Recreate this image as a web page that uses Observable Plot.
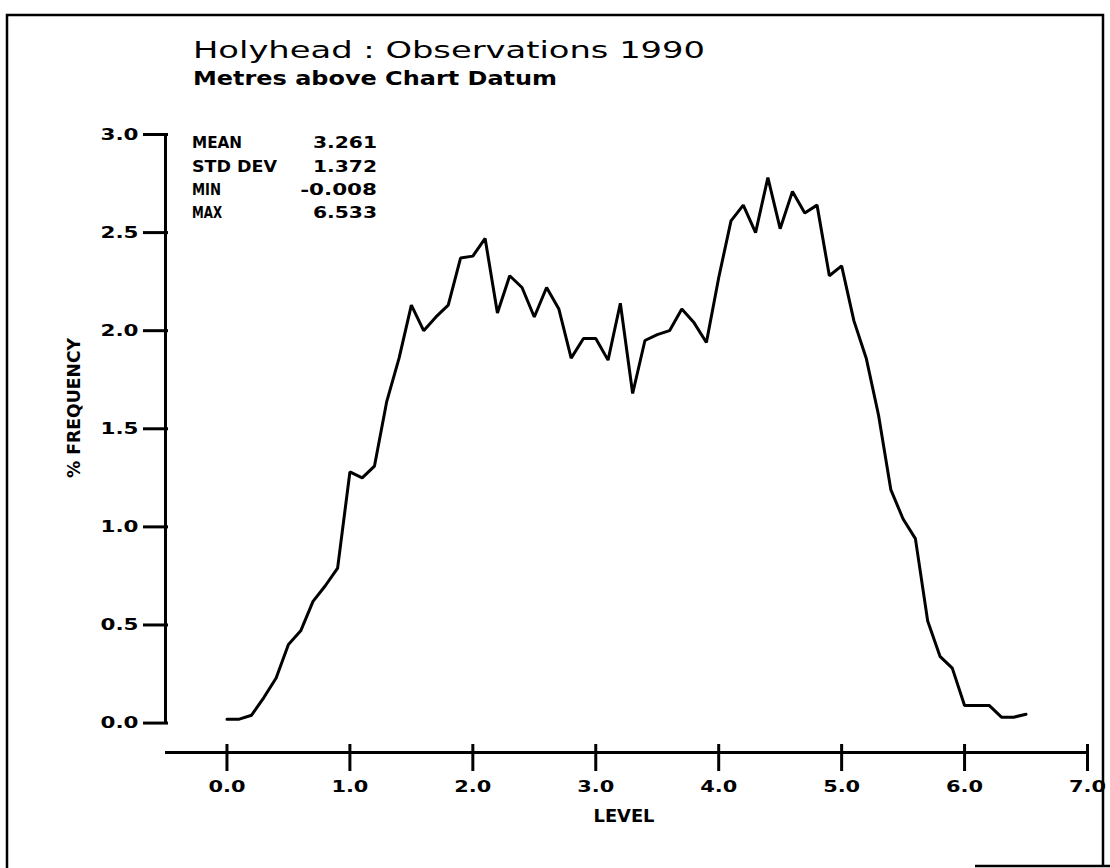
<!DOCTYPE html>
<html>
<head>
<meta charset="utf-8">
<script src="https://cdn.jsdelivr.net/npm/d3@7"></script>
<script src="https://cdn.jsdelivr.net/npm/@observablehq/plot@0.6"></script>
<style>
html, body { margin: 0; padding: 0; background: #fff; }
#chart svg { display: block; }
</style>
</head>
<body>
<div id="chart"></div>
<script>
// ---- data ----
const levels = [0.0, 0.1, 0.2, 0.3, 0.4, 0.5, 0.6, 0.7, 0.8, 0.9,
                1.0, 1.1, 1.2, 1.3, 1.4, 1.5, 1.6, 1.7, 1.8, 1.9,
                2.0, 2.1, 2.2, 2.3, 2.4, 2.5, 2.6, 2.7, 2.8, 2.9,
                3.0, 3.1, 3.2, 3.3, 3.4, 3.5, 3.6, 3.7, 3.8, 3.9,
                4.0, 4.1, 4.2, 4.3, 4.4, 4.5, 4.6, 4.7, 4.8, 4.9,
                5.0, 5.1, 5.2, 5.3, 5.4, 5.5, 5.6, 5.7, 5.8, 5.9,
                6.0, 6.1, 6.2, 6.3, 6.4, 6.5];
const frequency = [0.02, 0.02, 0.04, 0.13, 0.23, 0.40, 0.47, 0.62, 0.70, 0.79,
                   1.28, 1.25, 1.31, 1.64, 1.86, 2.13, 2.00, 2.07, 2.13, 2.37,
                   2.38, 2.47, 2.09, 2.28, 2.22, 2.07, 2.22, 2.11, 1.86, 1.96,
                   1.96, 1.85, 2.14, 1.68, 1.95, 1.98, 2.00, 2.11, 2.04, 1.94,
                   2.27, 2.56, 2.64, 2.50, 2.78, 2.52, 2.71, 2.60, 2.64, 2.28,
                   2.33, 2.05, 1.86, 1.57, 1.19, 1.04, 0.94, 0.52, 0.34, 0.28,
                   0.09, 0.09, 0.09, 0.03, 0.03, 0.045];
const xTicks = [0, 1, 2, 3, 4, 5, 6, 7];
const yTicks = [0, 0.5, 1, 1.5, 2, 2.5, 3];
const xDomain = [-0.5, 7];
const yDomain = [-0.15, 3];
const titleText = "Holyhead : Observations 1990";
const subtitleText = "Metres above Chart Datum";
const xLabel = "LEVEL";
const yLabel = "% FREQUENCY";
const statLabels = ["MEAN", "STD DEV", "MIN", "MAX"];
const statValues = ["3.261", "1.372", "-0.008", "6.533"];

const data = levels.map((l, i) => ({level: l, freq: frequency[i]}));
const font = "'DejaVu Sans', sans-serif";
const fmt = d3.format(".1f");

const plot = Plot.plot({
  width: 1110,
  height: 868,
  marginLeft: 165,
  marginRight: 23,
  marginTop: 134,
  marginBottom: 116,
  style: {fontFamily: font, fontSize: "16px", color: "#000", background: "#fff", overflow: "visible"},
  x: {domain: xDomain},
  y: {domain: yDomain},
  marks: [
    // axis lines
    Plot.ruleX([xDomain[0]], {y1: yTicks[0], y2: yTicks[yTicks.length - 1], strokeWidth: 3, stroke: "#000"}),
    Plot.ruleY([yDomain[0]], {x1: xDomain[0], x2: xDomain[1], strokeWidth: 3, stroke: "#000"}),
    // y ticks and labels
    Plot.axisY({ticks: yTicks, tickSize: 25, dx: 3, text: null, label: null, strokeWidth: 3}),
    Plot.axisY({ticks: yTicks, tickSize: 0, tickPadding: 27, tickFormat: fmt, label: null, fontWeight: "bold", fontSize: 16}),
    // x ticks (below and slightly above the axis line) and labels
    Plot.axisX({ticks: xTicks, tickSize: 19, text: null, label: null, strokeWidth: 3}),
    Plot.axisX({ticks: xTicks, tickSize: 8, dy: -8, text: null, label: null, strokeWidth: 3}),
    Plot.axisX({ticks: xTicks, tickSize: 0, tickPadding: 28, tickFormat: fmt, label: null, fontWeight: "bold", fontSize: 16}),
    // the frequency line
    Plot.line(data, {x: "level", y: "freq", stroke: "#000", strokeWidth: 3, strokeLinejoin: "miter"})
  ]
});

document.getElementById("chart").appendChild(plot);

// ---- annotations (text, frame) ----
const svg = d3.select(plot);

// tick label widths, like the plotter font
svg.selectAll('g[aria-label="x-axis tick label"] text')
  .attr("textLength", 37).attr("lengthAdjust", "spacingAndGlyphs");
svg.selectAll('g[aria-label="y-axis tick label"] text')
  .attr("textLength", 38).attr("lengthAdjust", "spacingAndGlyphs");

// outer frame
svg.append("path")
  .attr("d", "M7,868V15H1103V866M975,866H1110")
  .attr("fill", "none").attr("stroke", "#000").attr("stroke-width", 2.5);

const ann = svg.append("g")
  .attr("font-family", font)
  .attr("fill", "#000")
  .attr("text-anchor", "start");

ann.append("text").text(titleText)
  .attr("x", 193).attr("y", 58)
  .attr("font-size", 23)
  .attr("textLength", 512).attr("lengthAdjust", "spacingAndGlyphs");

ann.append("text").text(subtitleText)
  .attr("x", 193).attr("y", 85)
  .attr("font-size", 19).attr("font-weight", "bold")
  .attr("textLength", 364).attr("lengthAdjust", "spacingAndGlyphs");

const rowY = [148, 171.5, 195, 218];
const labelWidths = [50, 85, 29, 30];
statLabels.forEach((s, i) => {
  ann.append("text").text(s)
    .attr("x", 192).attr("y", rowY[i])
    .attr("text-anchor", "start")
    .attr("font-size", 16).attr("font-weight", "bold")
    .attr("textLength", labelWidths[i]).attr("lengthAdjust", "spacingAndGlyphs");
  ann.append("text").text(statValues[i])
    .attr("x", 377).attr("y", rowY[i])
    .attr("text-anchor", "end")
    .attr("font-size", 16).attr("font-weight", "bold")
    .attr("textLength", statValues[i].length * 12.8).attr("lengthAdjust", "spacingAndGlyphs");
});

ann.append("text").text(xLabel)
  .attr("x", 624).attr("y", 822)
  .attr("text-anchor", "middle")
  .attr("font-size", 17).attr("font-weight", "bold")
  .attr("textLength", 61).attr("lengthAdjust", "spacingAndGlyphs");

ann.append("text").text(yLabel)
  .attr("transform", "translate(80,408) rotate(-90)")
  .attr("text-anchor", "middle")
  .attr("font-size", 17).attr("font-weight", "bold")
  .attr("textLength", 140).attr("lengthAdjust", "spacingAndGlyphs");
</script>
</body>
</html>
